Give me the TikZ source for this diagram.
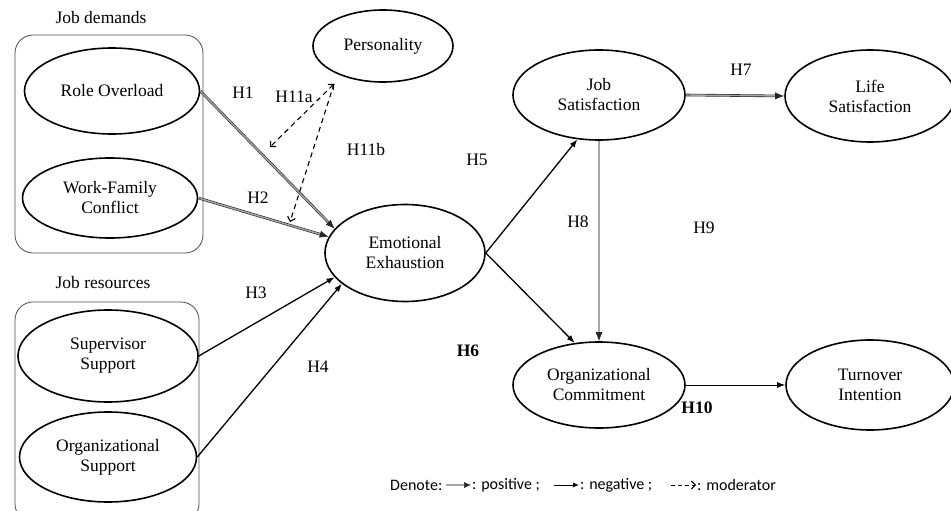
\documentclass[tikz,border=0pt]{standalone}
\usepackage{fontspec}
\setmainfont{Liberation Serif}
\newfontfamily\legendfont{Carlito}
\usetikzlibrary{arrows.meta,positioning,shapes.geometric}

\begin{document}
\begin{tikzpicture}[
    x=1pt, y=-1pt,
    construct/.style={draw, ellipse, line width=1.6pt, inner sep=0pt, align=center, font=\fontsize{17.5}{20}\selectfont},
    group/.style={draw=black!70, rounded corners=18pt, line width=0.8pt},
    hyp/.style={font=\fontsize{17.5}{20}\selectfont},
    legend/.style={inner sep=1pt, font=\legendfont\fontsize{16}{18}\selectfont},
    poslink/.style={draw=black!85, double=black!35, double distance=1.4pt, line width=0.6pt, -{Latex[length=9pt,width=7pt]}},
    neglink/.style={line width=1.3pt, -{Latex[length=8pt,width=6pt]}},
    modlink/.style={line width=1.1pt, dash pattern=on 5pt off 4pt, -{Straight Barb[length=4pt,width=8pt]}}
]
\useasboundingbox (0,0) rectangle (951,511);

% job demands / job resources
\draw[group] (15,35) rectangle (203,253);
\draw[group] (15,302) rectangle (199,522);
\node[hyp] (demandslbl) at (101,18) {Job demands};
\node[hyp] (resourceslbl) at (103,283) {Job resources};

\node[construct, minimum width=175pt, minimum height=86pt] (overload) at (112,91) {Role Overload};
\node[construct, minimum width=175pt, minimum height=80pt] (conflict) at (110,198) {Work-Family\\Conflict};
\node[construct, minimum width=180pt, minimum height=92pt] (supervisor) at (108,356) {Supervisor\\Support};
\node[construct, minimum width=177pt, minimum height=90pt] (orgsupport) at (108,457) {Organizational\\Support};

\node[construct, minimum width=140pt, minimum height=72pt] (personality) at (383,46) {Personality};
\node[construct, minimum width=160pt, minimum height=97pt] (exhaustion) at (405,253) {Emotional\\Exhaustion};
\node[construct, minimum width=172pt, minimum height=90pt] (jobsat) at (599,95) {Job\\Satisfaction};
\node[construct, minimum width=170pt, minimum height=92pt] (lifesat) at (870,96) {Life\\Satisfaction};
\node[construct, minimum width=172pt, minimum height=86pt] (commit) at (599,385) {Organizational\\Commitment};
\node[construct, minimum width=168pt, minimum height=90pt] (turnover) at (870,385) {Turnover\\Intention};

% hypotheses
\draw[poslink] (overload.east) -- (exhaustion.161);
\draw[poslink] (conflict.east) -- (exhaustion.168);
\draw[neglink] (supervisor.east) -- (exhaustion.199);
\draw[neglink] (orgsupport.east) -- (exhaustion.206);
\draw[neglink] (exhaustion.east) -- (jobsat.244);
\draw[neglink] (exhaustion.east) -- (commit.120);
\draw[poslink] (jobsat.east) -- (lifesat.west);
\draw[poslink] (jobsat.south) -- (commit.north);
\draw[neglink, line width=1pt] (commit.east) -- (turnover.west);

% moderator
\coordinate (modtop) at (334,84);
\coordinate (modend1) at (270,147);
\coordinate (modend2) at (290,222);
\draw[modlink, {Straight Barb[length=4pt,width=8pt]}-{Straight Barb[length=4pt,width=8pt]}] (modtop) -- (modend1);
\draw[modlink] (modtop) -- (modend2);

\node[hyp] (h1) at (243,93) {H1};
\node[hyp] (h11a) at (294,97) {H11a};
\node[hyp] (h11b) at (366,150) {H11b};
\node[hyp] (h2) at (258,198) {H2};
\node[hyp] (h3) at (256,293) {H3};
\node[hyp] (h4) at (318,367) {H4};
\node[hyp] (h5) at (477,160) {H5};
\node[hyp, font=\fontsize{17.5}{20}\selectfont\bfseries] (h6) at (468,351) {H6};
\node[hyp] (h7) at (741,70) {H7};
\node[hyp] (h8) at (578,222) {H8};
\node[hyp] (h9) at (704,228) {H9};
\node[hyp, font=\fontsize{17.5}{20}\selectfont\bfseries] (h10) at (697,408) {H10};

% legend
\node[legend, anchor=west] (denote) at (389,485) {Denote:};
\node[legend, anchor=west] (positive) at (471,485) {: positive ;};
\node[legend, anchor=west] (negative) at (579,485) {: negative ;};
\node[legend, anchor=west] (moderator) at (696,485) {: moderator};
\draw[poslink, double distance=1.1pt, line width=0.6pt, shorten <=3pt, -{Latex[length=7pt,width=6pt]}] (denote.east) -- (positive.west);
\draw[neglink, line width=1pt, shorten <=13pt, -{Latex[length=6pt,width=5pt]}] (positive.east) -- (negative.west);
\draw[modlink, line width=1pt, dash pattern=on 4pt off 3pt, shorten <=18pt] (negative.east) -- (moderator.west);
\end{tikzpicture}
\end{document}
